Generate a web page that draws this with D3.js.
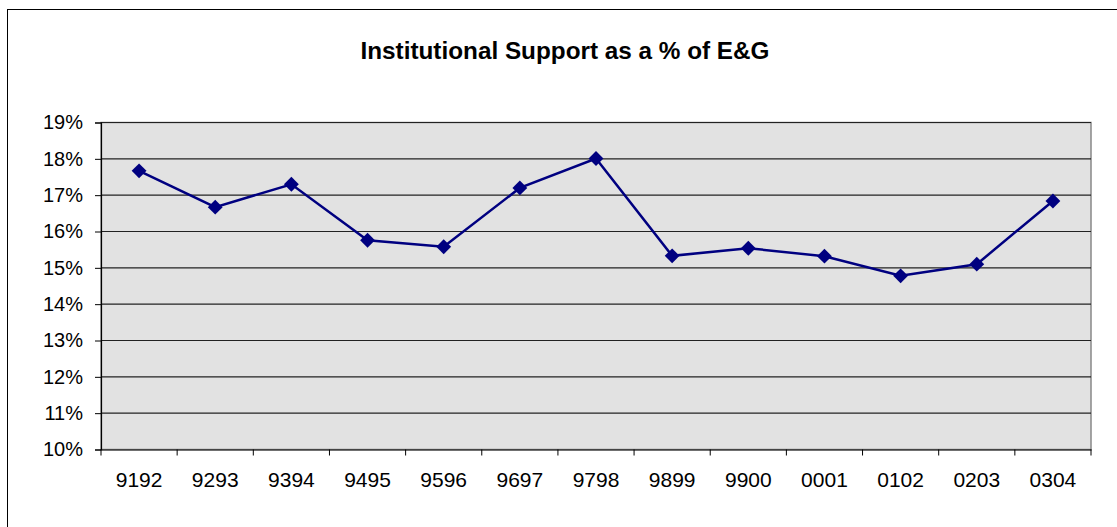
<!DOCTYPE html>
<html><head><meta charset="utf-8">
<script src="https://cdn.jsdelivr.net/npm/d3@7/dist/d3.min.js"></script>
<style>body{margin:0;background:#fff}svg{display:block}text{font-family:"Liberation Sans",Arial,sans-serif}</style>
</head><body><svg id="c" width="1117" height="527"></svg>
<script>
const title = "Institutional Support as a % of E&G";
const categories = ["9192","9293","9394","9495","9596","9697","9798","9899","9900","0001","0102","0203","0304"];
const values = [17.67,16.67,17.30,15.76,15.58,17.20,18.01,15.33,15.54,15.32,14.78,15.10,16.84];
const yTicks = [10,11,12,13,14,15,16,17,18,19];

const svg = d3.select("#c");
const L=101, R=1091, T=122.5, B=449.5;

svg.append("rect").attr("x",7.5).attr("y",9.5).attr("width",1130).attr("height",540)
  .attr("fill","#fff").attr("stroke","#000").attr("stroke-width",1);

svg.append("text").attr("x",565).attr("y",59).attr("text-anchor","middle")
  .attr("font-size",24.3).attr("font-weight","bold").text(title);

const x = d3.scaleBand().domain(categories).range([L,R]);
const y = d3.scaleLinear().domain([10,19]).range([B,T]);

svg.append("rect").attr("x",L).attr("y",T).attr("width",R-L).attr("height",B-T)
  .attr("fill","#e2e2e2").attr("stroke","#888").attr("stroke-width",1.5);

svg.append("g").selectAll("line").data(yTicks.slice(1)).join("line")
  .attr("x1",L).attr("x2",R).attr("y1",d=>y(d)).attr("y2",d=>y(d))
  .attr("stroke","#222").attr("stroke-width",1.2);

const ya = svg.append("g").attr("transform",`translate(${L},0)`)
  .call(d3.axisLeft(y).tickValues(yTicks).tickFormat(d=>d+"%").tickSize(6).tickPadding(12));
ya.select(".domain").attr("stroke","#000").attr("stroke-width",1.2);
ya.selectAll(".tick line").attr("stroke","#000");
ya.selectAll("text").attr("font-size",20).attr("fill","#000").attr("font-family","Liberation Sans, Arial, sans-serif");

const xa = svg.append("g").attr("transform",`translate(0,${B})`)
  .call(d3.axisBottom(x).tickSize(0).tickPadding(22.5));
xa.select(".domain").attr("stroke","#000").attr("stroke-width",1.2);
xa.selectAll("text").attr("font-size",21).attr("fill","#000").attr("font-family","Liberation Sans, Arial, sans-serif");
svg.append("g").selectAll("line").data(d3.range(categories.length+1)).join("line")
  .attr("x1",i=>L+i*x.step()).attr("x2",i=>L+i*x.step()).attr("y1",B).attr("y2",B+6)
  .attr("stroke","#000").attr("stroke-width",1);

const cx = d=>x(d)+x.bandwidth()/2;
const data = categories.map((c,i)=>({c,v:values[i]}));
svg.append("path").datum(data)
  .attr("d",d3.line().x(d=>cx(d.c)).y(d=>y(d.v)))
  .attr("fill","none").attr("stroke","#000080").attr("stroke-width",2.5);
svg.append("g").selectAll("path").data(data).join("path")
  .attr("d",d3.symbol(d3.symbolSquare,110))
  .attr("transform",d=>`translate(${cx(d.c)},${y(d.v)}) rotate(45)`)
  .attr("fill","#000080");
</script></body></html>
